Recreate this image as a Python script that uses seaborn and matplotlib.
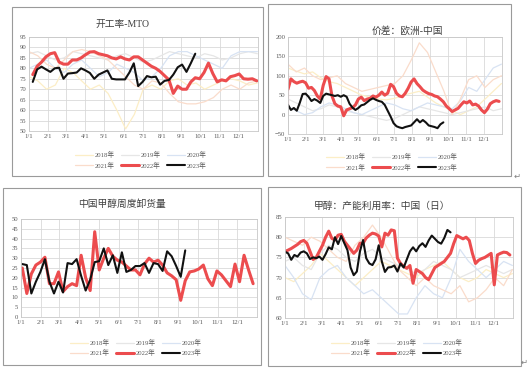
import numpy as np
import pandas as pd
import matplotlib
matplotlib.use("Agg")
import matplotlib.pyplot as plt
from matplotlib.lines import Line2D
from matplotlib.patches import Rectangle
import seaborn as sns

years = ['2018年', '2019年', '2020年', '2021年', '2022年', '2023年']
colors = ['#FCEEC6', '#E6E6E6', '#D8E3F3', '#FADCCB', '#EC4C4E', '#111111']
widths = [0.9, 0.9, 0.9, 0.9, 2.2, 1.5]
month_labels = [f"{m}/1" for m in range(1, 13)]

# 开工率-MTO (weekly)
mto_2018 = [76, 74, 70, 72, 80, 78, 74, 70, 72, 68, 60, 51, 58, 70, 72, 70, 74, 75, 72, 73, 70, 72, 74, 75, 74, 72, 73]
mto_2019 = [87, 88, 86, 84, 85, 88, 87, 86, 85, 84, 86, 87, 85, 83, 84, 86, 88, 87, 86, 85, 87, 86, 84, 85, 87, 88, 87]
mto_2020 = [80, 82, 84, 80, 78, 82, 84, 80, 76, 78, 82, 80, 78, 74, 76, 80, 86, 88, 88, 86, 84, 82, 80, 86, 88, 88, 88]
mto_2021 = [88, 86, 82, 80, 84, 88, 89, 88, 86, 84, 80, 76, 72, 70, 74, 73, 68, 64, 63, 63, 64, 66, 70, 72, 70, 73, 74]
mto_2022 = [77, 81, 83, 85.5, 87, 87.5, 83, 82, 82, 84, 84, 85, 86.5, 87.8, 88, 87, 86.5, 86, 85, 84.5,
            85.5, 84.5, 84, 85.5, 85.5, 84, 82.5, 81, 80, 78.5, 76.5, 74.5, 68, 71.5, 70, 70, 73.5, 75.5, 75, 78,
            82.5, 77.5, 73.5, 74.5, 74, 76, 76.5, 77.3, 75, 74.8, 75, 74]
mto_2023 = [73.5, 79.5, 80.8, 79.5, 78.3, 80, 80.3, 75, 77.5, 77.7, 78, 80, 79, 77.8, 75, 77, 78, 79, 75, 74.7,
            74.7, 74.7, 78, 82.4, 71.5, 73.5, 76.3, 75.7, 76, 72.2, 74, 74.4, 77, 80.5, 81.8, 78.3, 82.5, 87]

# 价差：欧洲-中国 (daily, sampled)
spread_2018 = [120, 112, 105, 110, 95, 85, 80, 70, 60, 50, 45, 40, 38, 42, 50, 55, 60, 45, 30, 20, 10, 0, 10, 20, 40, 60, 80]
spread_2019 = [40, 30, 20, 10, 15, 25, 20, 10, 5, 0, -5, -10, -15, -10, 0, 10, 20, 15, 10, 5, 0, 5, 10, 15, 20, 10, 15]
spread_2020 = [20, 10, 0, 5, 20, 30, 25, 15, 5, 0, 10, 20, 30, 25, 15, 10, 20, 30, 25, 20, 15, 35, 70, 60, 90, 120, 130]
spread_2021 = [130, 110, 120, 100, 90, 95, 100, 80, 70, 60, 65, 70, 75, 80, 100, 140, 185, 160, 110, 60, 0, 40, 90, 100, 70, 90, 100]
spread_2022 = [106, 92, 85, 81, 84, 86, 82, 68, 70, 62, 48, 40, 75, 98, 92, 48, 28, 22, 20, -3,
               12, 15, 18, 25, 40, 45, 36, 40, 42, 48, 45, 50, 58, 50, 55, 78, 72, 55, 48, 46,
               55, 68, 84, 92, 80, 72, 63, 58, 54, 52, 48, 46, 40, 33, 22, 15, 8, 12, 16, 25,
               33, 30, 35, 25, 27, 22, 12, 5, 14, 28, 33, 36, 34, 25]
spread_2023 = [25, 12, 17, 10, 30, 53, 54, 46, 35, 40, 36, 30, 48, 54, 52, 50, 48, 50, 46, 50,
               46, 28, 18, 12, 17, 24, 26, 32, 38, 42, 38, 35, 33, 25, 10, -5, -22, -30, -33, -35,
               -32, -30, -28, -20, -12, -20, -14, -20, -28, -30, -32, -35, -25, -20]

# 中国甲醇周度卸货量 (weekly)
unload_2022 = [25, 12, 22, 26.5, 28, 30.5, 17, 17, 23, 13, 15.5, 17, 16, 31.5, 20, 13.5, 43.5, 24, 30, 35,
               31, 29, 28, 26, 24, 24, 21.5, 27, 30, 28, 29, 26.5, 22.5, 21, 19, 8.5, 18.5, 23, 23.5, 24.5,
               26.5, 19.5, 16, 23.5, 21.5, 18.5, 15.5, 27, 18, 31.5, 24, 17]
unload_2023 = [27, 26.5, 12, 18, 23, 29.5, 18, 12, 18, 12.5, 27.5, 27, 29.5, 21, 13.5, 19, 28, 28.5, 35, 26.5,
               31.5, 22.5, 33, 23, 24, 26, 26, 27.5, 22.5, 27.5, 27, 23.5, 33.5, 31, 26, 20.5, 34]

# 甲醇：产能利用率：中国（日）
cap_2018 = [70, 69, 71, 73, 76, 74, 72, 70, 68, 70, 72, 74, 73, 72, 71, 70, 72, 73, 74, 72, 70, 69, 70, 72, 71, 70, 71]
cap_2019 = [74, 75, 73, 72, 76, 78, 77, 75, 74, 76, 77, 75, 74, 73, 72, 71, 72, 74, 73, 72, 70, 71, 72, 73, 72, 71, 72]
cap_2020 = [73, 70, 66, 64.5, 70, 72, 73, 70, 68, 66, 67, 65, 63, 61, 61, 65, 68, 66, 65, 70, 77, 74, 72, 70, 72, 74, 73]
cap_2021 = [80, 79, 78, 80, 79, 77, 75, 74, 78, 80, 83, 80, 76, 72, 70, 68, 70, 68, 67, 66, 68, 64, 65, 67, 70, 68, 72]
cap_2022 = [76.4, 76.8, 77.2, 77.7, 78.2, 78.9, 79.2, 78.5, 76.5, 74.5, 75, 76.5, 78, 80, 81.5, 79.7, 79.3, 80.5, 80.7, 79,
            78, 77, 76, 76.8, 78.5, 78.5, 79.8, 80.5, 81, 80.8, 80.3, 77.6, 81, 80.5, 81.8, 81.6, 74.8, 73.5, 72.8, 72.3,
            73, 68.6, 72, 71.5, 71, 70, 69.5, 71, 72.5, 73, 73.5, 74, 75, 76, 78.4, 80.4, 80, 79.6, 80, 79.2,
            76, 73.5, 74.3, 74.7, 75, 75.5, 76, 68.2, 75.6, 76, 76.3, 76.2, 75.6, 76.5]
cap_2023 = [76.4, 76, 74.4, 75.6, 75.2, 76.2, 76.5, 76, 74.6, 75, 74.8, 75.2, 74.4, 75.8, 77.5, 77, 80, 78.3, 80.3, 78.5,
            76.8, 72.5, 70.6, 71.5, 76.5, 79.3, 74.8, 73.5, 73.1, 74.5, 78, 74, 71.4, 72.5, 72.6, 73, 71.5, 73.5, 72.5, 74.5,
            76.5, 77.5, 76.5, 77.8, 78.5, 77.6, 79.2, 80.4, 79.6, 78.8, 78.4, 79.8, 81.8, 81.2]


def days(start, step, n):
    d = pd.date_range('2022-01-01', periods=n, freq=f'{step}D') + pd.Timedelta(days=start)
    return np.asarray(d.dayofyear - 1)


def draw_panel(ax, series, yticks):
    for i, s in enumerate(series):
        if s is None:
            continue
        start, step, vals = s
        sns.lineplot(x=days(start, step, len(vals)), y=vals, color=colors[i],
                     linewidth=widths[i], ax=ax, legend=False)
    month_starts = np.asarray(pd.date_range('2022-01-01', periods=12, freq='MS').dayofyear - 1)
    ax.set_xticks(month_starts)
    ax.set_xticklabels(month_labels)
    ax.set_xlim(0, 365)
    ax.set_yticks(yticks)
    ax.set_ylim(yticks[0], yticks[-1])
    ax.set_xlabel('')
    ax.set_ylabel('')
    ax.grid(True, color='#D9D9D9', linewidth=0.6)
    for sp in ax.spines.values():
        sp.set_color('#C8C8C8')
        sp.set_linewidth(0.6)
    ax.tick_params(length=0, labelsize=4.8, colors='#595959', pad=2)


sns.set_style('whitegrid')
plt.rcParams['font.family'] = ['Liberation Serif', 'Noto Sans CJK SC', 'DejaVu Sans']

fig = plt.figure(figsize=(5.31, 3.73), dpi=100)
W, H = 531, 373


def px_axes(x0, y0, x1, y1):
    return fig.add_axes([x0 / W, 1 - y1 / H, (x1 - x0) / W, (y1 - y0) / H])


def px_box(x0, y0, x1, y1):
    fig.add_artist(Rectangle((x0 / W, 1 - y1 / H), (x1 - x0) / W, (y1 - y0) / H,
                             transform=fig.transFigure, fill=False,
                             edgecolor='#9A9A9A', linewidth=0.8))


handles = [Line2D([], [], color=c, linewidth=w) for c, w in zip(colors, widths)]
order = [0, 3, 1, 4, 2, 5]


def add_legend(cx, cy):
    fig.legend([handles[i] for i in order], [years[i] for i in order], ncol=3,
               loc='center', bbox_to_anchor=(cx / W, 1 - cy / H), frameon=False,
               fontsize=4.8, handlelength=2.6, handletextpad=0.3, columnspacing=1.0,
               labelspacing=0.5, labelcolor='#595959')


panels = [
    dict(box=(12, 7, 263, 176), ax=(29, 37, 258, 131), title='开工率-MTO', tpos=(122, 24),
         leg=(141, 160), yticks=list(range(50, 100, 5)),
         series=[(0, 14, mto_2018), (0, 14, mto_2019), (0, 14, mto_2020), (0, 14, mto_2021),
                 (6, 7, mto_2022), (6, 7, mto_2023)]),
    dict(box=(268, 4, 511, 176), ax=(288, 37, 502, 134), title='价差：欧洲-中国', tpos=(407, 31),
         leg=(392, 162), yticks=list(range(-50, 250, 50)),
         series=[(0, 14, spread_2018), (0, 14, spread_2019), (0, 14, spread_2020), (0, 14, spread_2021),
                 (0, 5, spread_2022), (0, 5, spread_2023)]),
    dict(box=(3, 188, 261, 365), ax=(21, 219, 257, 317), title='中国甲醇周度卸货量', tpos=(122, 204),
         leg=(136, 347.5), yticks=list(range(0, 55, 5)),
         series=[None, None, None, None, (2, 7, unload_2022), (2, 7, unload_2023)]),
    dict(box=(268, 187, 521, 366), ax=(285, 217, 513, 318), title='甲醇：产能利用率：中国（日）', tpos=(382, 206),
         leg=(397, 347.5), yticks=list(range(60, 90, 5)),
         series=[(0, 14, cap_2018), (0, 14, cap_2019), (0, 14, cap_2020), (0, 14, cap_2021),
                 (0, 5, cap_2022), (0, 5, cap_2023)]),
]

for p in panels:
    px_box(*p['box'])
    ax = px_axes(*p['ax'])
    draw_panel(ax, p['series'], p['yticks'])
    fig.text(p['tpos'][0] / W, 1 - p['tpos'][1] / H, p['title'], ha='center', va='center',
             fontsize=7, color='#404040')
    add_legend(*p['leg'])

fig.text(514 / W, 1 - 176 / H, '↵', family='DejaVu Sans', fontsize=6, color='#808080', ha='left', va='center')
fig.text(521 / W, 1 - 362 / H, '↵', family='DejaVu Sans', fontsize=6, color='#808080', ha='left', va='center')

fig.savefig('out.png', dpi=100)
